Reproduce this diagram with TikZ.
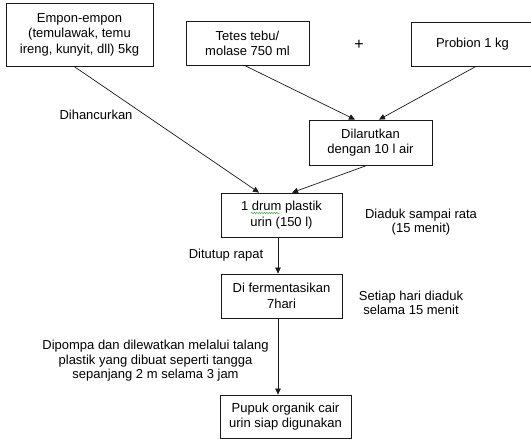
\documentclass[tikz,border=0pt]{standalone}
\usepackage{fontspec}
\setmainfont{Liberation Sans}
\usepackage{tikz}
\usetikzlibrary{arrows.meta, positioning, decorations.pathmorphing}
\definecolor{mainBlack}{gray}{0.1}
\definecolor{spellGreen}{RGB}{60,170,60}
\tikzset{
    stepbox/.style={draw=mainBlack, line width=0.8pt, rectangle, align=center, inner sep=0pt,
        font=\fontsize{13}{15.5}\selectfont},
    note/.style={align=center, inner sep=0pt, font=\fontsize{13}{14.5}\selectfont},
}

\begin{document}
\begin{tikzpicture}[x=1pt, y=-1pt, >={Triangle[length=6pt, width=5.5pt]}]
    \useasboundingbox (0,0) rectangle (531,439);

    % boxes
    \node[stepbox, minimum width=147pt, minimum height=62.6pt] (empon) at (79.5, 34.7)
        {Empon-empon\\(temulawak, temu\\ireng, kunyit, dll) 5kg};
    \node[stepbox, minimum width=123pt, minimum height=44pt] (tetes) at (247.5, 43.5)
        {Tetes tebu/\\molase 750 ml};
    \node[stepbox, minimum width=123pt, minimum height=44pt] (probion) at (472.5, 44)
        {Probion 1 kg};
    \node[note, font=\fontsize{16}{16}\selectfont] (plus) at (359, 45) {+};
    \node[stepbox, minimum width=123pt, minimum height=45pt] (larut) at (370.5, 142.5)
        {Dilarutkan\\dengan 10 l air};
    \node[stepbox, minimum width=121pt, minimum height=44pt] (drum) at (281.5, 215)
        {1 drum plastik\\urin (150 l)};
    \node[stepbox, minimum width=121pt, minimum height=44pt] (ferment) at (281.5, 296)
        {Di fermentasikan\\7hari};
    \node[stepbox, minimum width=131pt, minimum height=43pt] (pupuk) at (285.5, 416.5)
        {Pupuk organik cair\\urin siap digunakan};

    % labels
    \node[note] (hancur) at (96, 115) {Dihancurkan};
    \node[note] (aduk) at (421, 222) {Diaduk sampai rata\\(15 menit)};
    \node[note] (tutup) at (226, 255) {Ditutup rapat};
    \node[note] (harian) at (411, 303) {Setiap hari diaduk\\selama 15 menit};
    \node[note] (pompa) at (155.5, 361) {Dipompa dan dilewatkan melalui talang\\plastik yang dibuat seperti tangga\\sepanjang 2 m selama 3 jam};

    % spell-check mark under "drum"
    \draw[spellGreen, line width=0.5pt, decorate, decoration={snake, amplitude=0.7pt, segment length=2.5pt}]
        (251, 213) -- (280, 213);

    % connectors
    \draw[->, mainBlack, line width=0.7pt] ([xshift=-5.5pt]empon.south) -- ([xshift=-22.5pt]drum.north);
    \draw[->, mainBlack, line width=0.7pt] ([xshift=-2pt]tetes.south) -- ([xshift=-15.5pt]larut.north);
    \draw[->, mainBlack, line width=0.7pt] ([xshift=3.5pt]probion.south) -- ([xshift=8.5pt]larut.north);
    \draw[->, mainBlack, line width=0.7pt] ([xshift=-3.5pt]larut.south) -- ([xshift=10.5pt]drum.north);
    \draw[->, mainBlack, line width=0.7pt] ([xshift=-3.5pt]drum.south) -- ([xshift=-3.5pt]ferment.north);
    \draw[->, mainBlack, line width=0.7pt] ([xshift=-3.5pt]ferment.south) -- ([xshift=-7.5pt]pupuk.north);
\end{tikzpicture}
\end{document}
